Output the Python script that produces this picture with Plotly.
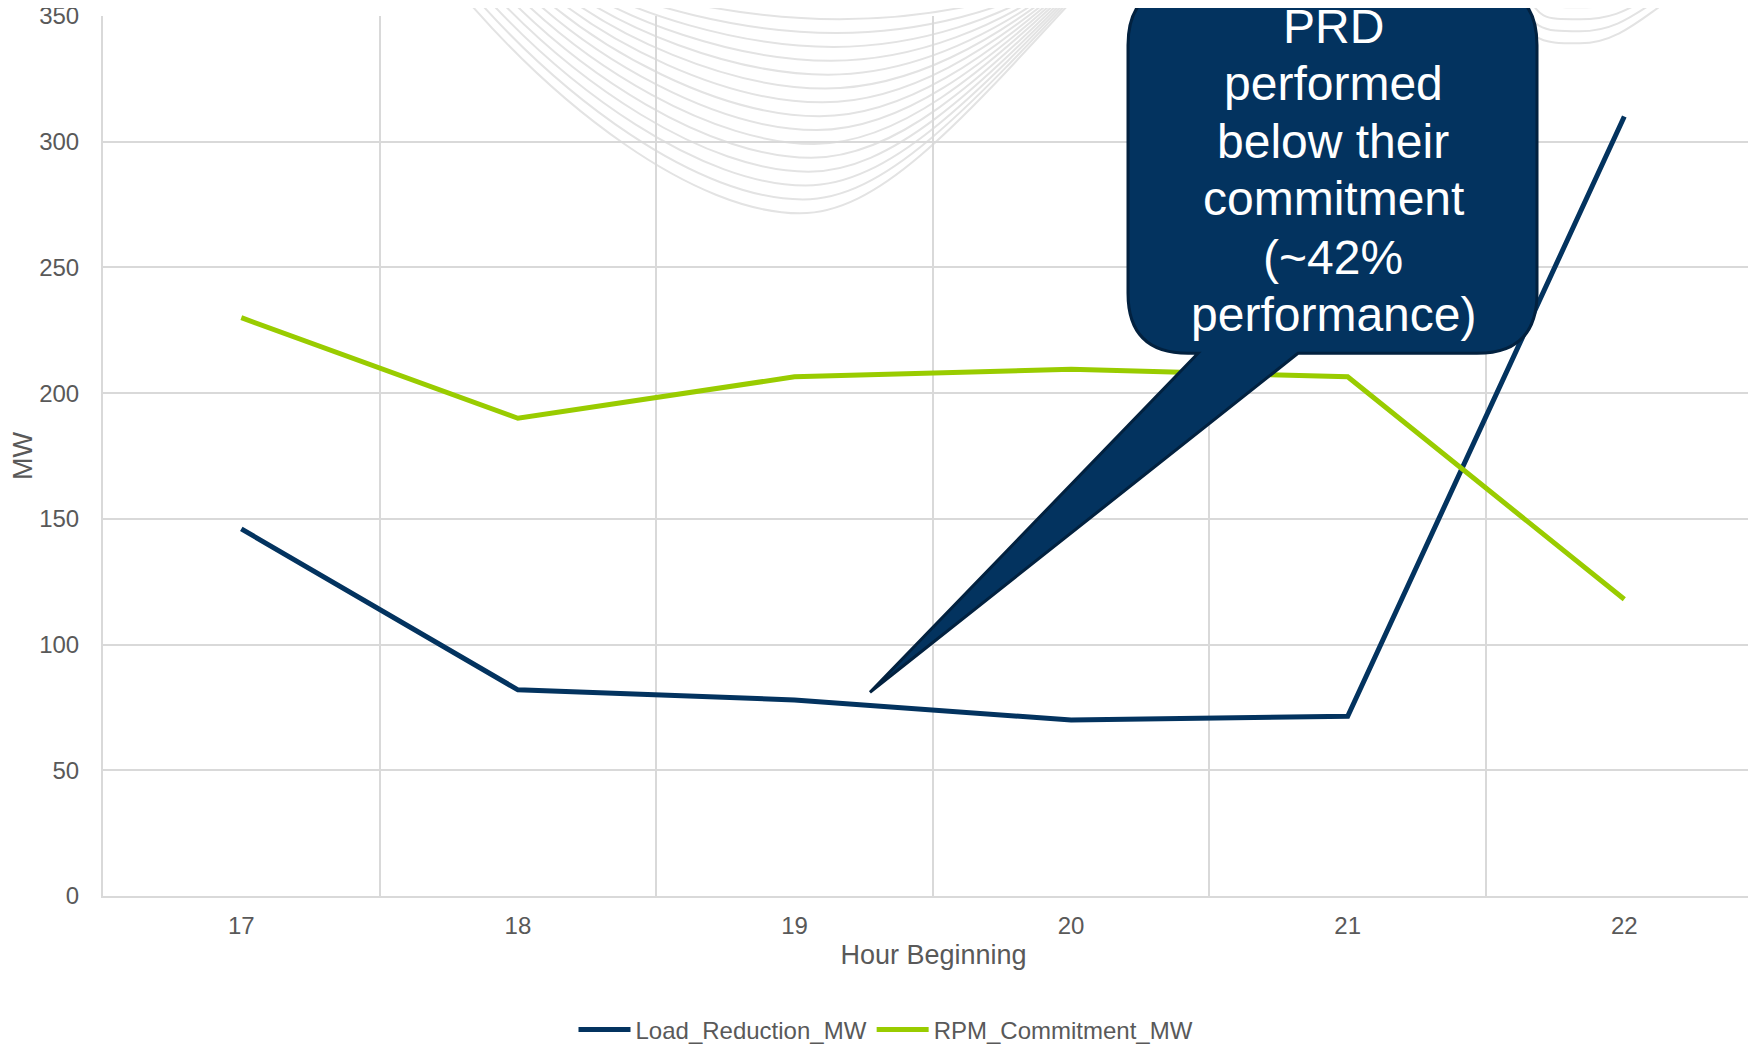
import plotly.graph_objects as go

# ---- data ----
hours = ["17", "18", "19", "20", "21", "22"]
load_reduction_mw = [146, 82, 78, 70, 71.5, 310]
rpm_commitment_mw = [230, 190, 206.5, 209.5, 206.5, 118]
callout_lines = ["PRD", "performed", "below their", "commitment", "(~42%", "performance)"]

# ---- layout geometry (page pixels; the figure sits 8px in from the page corner) ----
W, H = 1756, 1052
OFF = 8
PLOT_L, PLOT_T, PLOT_B = 103, 15.7, 895.7
L = PLOT_L - OFF
T = PLOT_T - OFF
B = H - (PLOT_B - OFF)
R = 0
PW, PH = W - L - R, H - T - B
CAT = 276.6  # px per category

def px(x):
    return (x - PLOT_L) / PW

def py(y):
    return (PLOT_B - y) / PH

def path(segs):
    return " ".join(cmd + " " + " ".join(f"{px(x):.5f},{py(y):.5f}" for x, y in pts)
                    for cmd, pts in segs)

NAVY = "#03335f"
GREEN = "#99cc00"
GRID = "#d9d9d9"
TXT = "#595959"
FONT = "Liberation Sans, Arial, sans-serif"

fig = go.Figure()
fig.add_trace(go.Scatter(x=hours, y=load_reduction_mw, mode="lines", name="Load_Reduction_MW",
                         line=dict(color=NAVY, width=5)))
fig.add_trace(go.Scatter(x=hours, y=rpm_commitment_mw, mode="lines", name="RPM_Commitment_MW",
                         line=dict(color=GREEN, width=5)))

shapes = []
# decorative background swirls
for i in range(16):
    t = i / 15
    lp = lambda a, b: a + (b - a) * t
    mx, my = lp(800, 842), lp(213, 5)
    segs = [("M", [(lp(442, 595), -30)]),
            ("C", [(lp(555, 645), lp(110, -10)), (lp(697, 755), my), (mx, my)]),
            ("C", [(lp(882, 925), my), (lp(962, 1012), lp(120, -5)), (lp(1100, 1070), -30)])]
    shapes.append(dict(type="path", xref="paper", yref="paper", path=path(segs),
                       line=dict(color="#e3e3e3", width=2), layer="below"))
for j in range(4):
    my = 43 - 12 * j
    xl, mx, xr = 1505 + 8 * j, 1580, 1700 - 10 * j
    segs = [("M", [(xl, -15)]),
            ("C", [(xl + 20, my), (mx - 40, my), (mx, my)]),
            ("C", [(mx + 50, my), (xr - 40, -5), (xr, -15)])]
    shapes.append(dict(type="path", xref="paper", yref="paper", path=path(segs),
                       line=dict(color="#e3e3e3", width=2), layer="below"))

# callout box with pointer
x1, x2, yt, yb, r = 1128, 1537, -15, 353, 60
segs = [("M", [(x1 + r, yt)]), ("L", [(x2 - r, yt)]), ("Q", [(x2, yt), (x2, yt + r)]),
        ("L", [(x2, yb - r)]), ("Q", [(x2, yb), (x2 - r, yb)]),
        ("L", [(1298, yb)]), ("L", [(870, 692)]), ("L", [(1198, yb)]),
        ("L", [(x1 + r, yb)]), ("Q", [(x1, yb), (x1, yb - r)]),
        ("L", [(x1, yt + r)]), ("Q", [(x1, yt), (x1 + r, yt)])]
shapes.append(dict(type="path", xref="paper", yref="paper", path=path(segs) + " Z",
                   fillcolor=NAVY, line=dict(color="#02213f", width=3), layer="above"))

line_y = [26.0, 83.6, 141.5, 198.5, 257.0, 314.0]
annotations = []
for txt, yy in zip(callout_lines, line_y):
    annotations.append(dict(text=txt, xref="paper", yref="paper", x=px(1333), y=py(yy),
                            xanchor="center", yanchor="middle", showarrow=False,
                            font=dict(family=FONT, size=48, color="white")))

fig.update_layout(
    width=W, height=H,
    margin=dict(l=L, r=R, t=T, b=B, autoexpand=False),
    paper_bgcolor="white", plot_bgcolor="rgba(0,0,0,0)",
    font=dict(family=FONT, color=TXT),
    shapes=shapes, annotations=annotations,
    showlegend=True,
    legend=dict(orientation="h", x=px(886), xanchor="center", y=(H - (1030 - OFF)) / H,
                yref="container", yanchor="middle", itemwidth=52,
                font=dict(size=24, color=TXT), bgcolor="rgba(0,0,0,0)"),
    xaxis=dict(type="category", range=[-0.5, -0.5 + PW / CAT], tickson="boundaries",
               showgrid=True, gridcolor=GRID, gridwidth=2, showline=True, linecolor=GRID, linewidth=2,
               ticks="", ticklabelstandoff=7, tickfont=dict(size=24, color=TXT), zeroline=False,
               title=dict(text="Hour Beginning", font=dict(size=27, color=TXT), standoff=7)),
    yaxis=dict(range=[0, 350], dtick=50, showgrid=True, gridcolor=GRID, gridwidth=2,
               showline=True, linecolor=GRID, linewidth=2, ticks="", zeroline=False,
               ticklabelstandoff=17, ticklabeloverflow="allow", tickfont=dict(size=24, color=TXT),
               title=dict(text="MW", font=dict(size=27, color=TXT), standoff=1)),
)

fig.write_html("out.html")
